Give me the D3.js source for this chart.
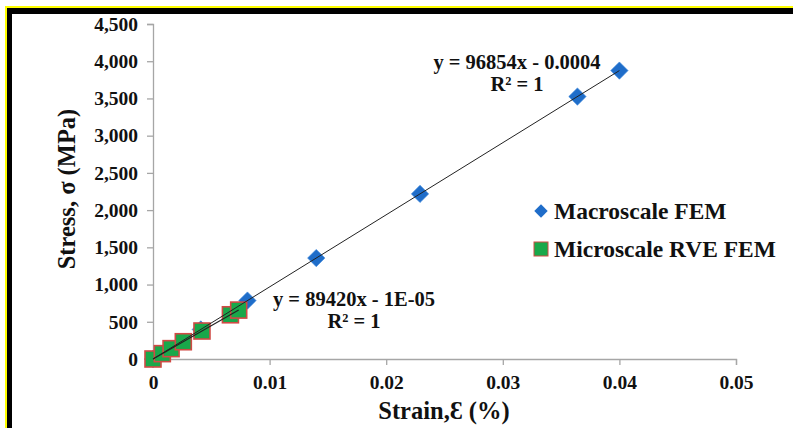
<!DOCTYPE html>
<html>
<head>
<meta charset="utf-8">
<script src="https://cdn.jsdelivr.net/npm/d3@7"></script>
<style>
  html, body { margin: 0; padding: 0; background: #fff; }
  svg { display: block; }
  text { font-family: "Liberation Serif", "Times New Roman", serif; font-weight: bold; fill: #111; }
</style>
</head>
<body>
<svg id="chart" width="793" height="428"></svg>
<script>
// Macroscale FEM results (strain, stress in MPa)
const macroStrain = [0, 0.0041, 0.0081, 0.014, 0.0229, 0.0364, 0.04];
const macroStress = [0, 397, 785, 1356, 2218, 3525, 3874];
// Microscale RVE FEM results
const microStrain = [0, 0.0008, 0.00155, 0.0026, 0.0042, 0.00664, 0.00735];
const microStress = [0, 72, 139, 232, 376, 594, 657];

// Linear fits shown on the chart
const macroFit = { slope: 96854, intercept: -0.0004, label: "y = 96854x - 0.0004", r2: "R² = 1" };
const microFit = { slope: 89420, intercept: -0.00001, label: "y = 89420x - 1E-05", r2: "R² = 1" };

const xTicks = [0, 0.01, 0.02, 0.03, 0.04, 0.05];
const yTicks = [0, 500, 1000, 1500, 2000, 2500, 3000, 3500, 4000, 4500];

const svg = d3.select("#chart");
const W = 793, H = 428;

// Frame: yellow outline with heavy black band
svg.append("rect").attr("x", 5).attr("y", 6).attr("width", W).attr("height", H).attr("fill", "#ffff00");
svg.append("rect").attr("x", 7).attr("y", 8).attr("width", W).attr("height", H).attr("fill", "#000");
svg.append("rect").attr("x", 12).attr("y", 14).attr("width", W).attr("height", H).attr("fill", "#fff");

const x = d3.scaleLinear().domain([0, 0.05]).range([153, 736]);
const y = d3.scaleLinear().domain([0, 4500]).range([359, 24]);

const axisColor = "#a6a6a6";

// Y axis
const yAxis = svg.append("g").attr("transform", `translate(${x(0)},0)`)
  .call(d3.axisLeft(y).tickValues(yTicks).tickSize(6).tickPadding(9).tickFormat(d3.format(",")));
// X axis
const xAxis = svg.append("g").attr("transform", `translate(0,${y(0)})`)
  .call(d3.axisBottom(x).tickValues(xTicks).tickSize(6).tickPadding(10).tickFormat(d => d === 0 ? "0" : d3.format(".2f")(d)));

[yAxis, xAxis].forEach(g => {
  g.select(".domain").attr("stroke", axisColor).attr("stroke-width", 1.3);
  g.selectAll(".tick line").attr("stroke", axisColor).attr("stroke-width", 1.3);
  g.selectAll(".tick text").attr("font-family", "Liberation Serif, serif").attr("font-weight", "bold")
    .attr("font-size", 19.5).attr("fill", "#111");
});

// Axis titles
svg.append("text").attr("x", 444).attr("y", 419).attr("text-anchor", "middle")
  .attr("font-size", 24.5).text("Strain,Ɛ (%)");
svg.append("text").attr("transform", `translate(75,189) rotate(-90)`).attr("text-anchor", "middle")
  .attr("font-size", 24.5).text("Stress, σ (MPa)");

const macro = macroStrain.map((s, i) => ({ s, v: macroStress[i] }));
const micro = microStrain.map((s, i) => ({ s, v: microStress[i] }));

// Diamond markers (Macroscale)
const diamond = d3.symbol().type(d3.symbolSquare).size(150)();
svg.append("g").selectAll("path").data(macro).join("path")
  .attr("d", diamond)
  .attr("transform", d => `translate(${x(d.s)},${y(d.v)}) rotate(45)`)
  .attr("fill", "#1f6dc9").attr("stroke", "#3a86dc").attr("stroke-width", 0.6);

// Square markers (Microscale)
svg.append("g").selectAll("rect").data(micro).join("rect")
  .attr("x", d => x(d.s) - 8).attr("y", d => y(d.v) - 8)
  .attr("width", 16).attr("height", 16)
  .attr("fill", "#19a84a").attr("stroke", "#d04a45").attr("stroke-width", 1.6);

// Trend lines
function fitLine(fit, x0, x1, width) {
  svg.append("line")
    .attr("x1", x(x0)).attr("y1", y(fit.slope * x0 + fit.intercept))
    .attr("x2", x(x1)).attr("y2", y(fit.slope * x1 + fit.intercept))
    .attr("stroke", "#222").attr("stroke-width", width);
}
fitLine(macroFit, 0, d3.max(macroStrain), 1);
fitLine(microFit, 0, d3.max(microStrain), 1.2);

// Fit equations
function fitLabel(fit, cx, cy) {
  svg.append("text").attr("x", cx).attr("y", cy).attr("text-anchor", "middle").attr("font-size", 20.5).text(fit.label);
  svg.append("text").attr("x", cx).attr("y", cy + 22).attr("text-anchor", "middle").attr("font-size", 20.5).text(fit.r2);
}
fitLabel(macroFit, 517, 69);
fitLabel(microFit, 354, 306);

// Legend
const lg = svg.append("g");
lg.append("path").attr("d", d3.symbol().type(d3.symbolSquare).size(90)())
  .attr("transform", "translate(541,211) rotate(45)").attr("fill", "#1f6dc9");
lg.append("text").attr("x", 554).attr("y", 219).attr("font-size", 23.5).text("Macroscale FEM");
lg.append("rect").attr("x", 534).attr("y", 242).attr("width", 14).attr("height", 14)
  .attr("fill", "#19a84a").attr("stroke", "#d04a45").attr("stroke-width", 1);
lg.append("text").attr("x", 554).attr("y", 257).attr("font-size", 23.5).text("Microscale RVE FEM");
</script>
</body>
</html>
